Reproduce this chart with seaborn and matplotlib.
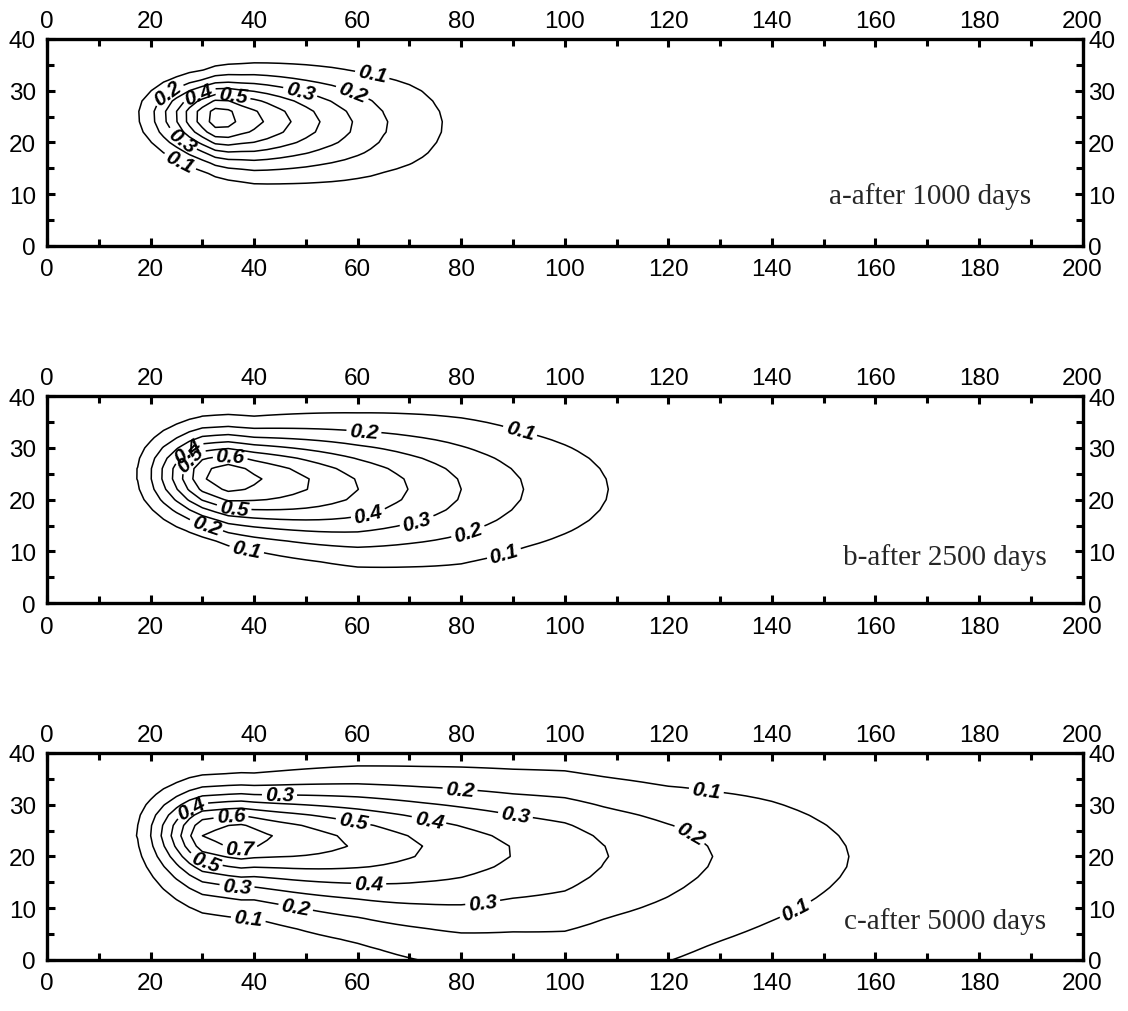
import matplotlib
matplotlib.use("Agg")
import matplotlib.pyplot as plt
import numpy as np
import seaborn as sns
from matplotlib.ticker import MultipleLocator

sns.set_theme(style="ticks")
plt.rcParams["font.family"] = ["Liberation Sans", "DejaVu Sans"]

LEVELS = [0.1, 0.2, 0.3, 0.4, 0.5, 0.6, 0.7]
PANEL_TEXT = ["a-after 1000 days", "b-after 2500 days", "c-after 5000 days"]
X_TICKS = [0, 20, 40, 60, 80, 100, 120, 140, 160, 180, 200]
Y_TICKS = [0, 10, 20, 30, 40]

A_X = [10, 18, 20.8, 22.8, 24.9, 26.7, 28.6, 31, 33.5, 36.2, 41.9, 47.1, 52.7, 59, 65.6, 76.1, 92]
A_C = [0.0, 0.1, 0.2, 0.3, 0.4, 0.5, 0.6, 0.7, 0.79, 0.7, 0.6, 0.5, 0.4, 0.3, 0.2, 0.1, 0.0]
B_X = [10, 17.4, 20.1, 22.1, 24.2, 26.1, 28, 30.2, 35, 41.5, 51, 60.2, 69.7, 80, 91.9, 108.3, 128]
B_C = [0.0, 0.1, 0.2, 0.3, 0.4, 0.5, 0.6, 0.7, 0.77, 0.7, 0.6, 0.5, 0.4, 0.3, 0.2, 0.1, 0.0]
C_X = [10, 17.4, 20, 22.1, 23.8, 26, 27.7, 30, 37, 43.8, 58.1, 72.7, 89.8, 100, 108.3, 128.4, 154.9, 180]
C_C = [0.0, 0.1, 0.2, 0.3, 0.4, 0.5, 0.6, 0.7, 0.77, 0.7, 0.6, 0.5, 0.4, 0.36, 0.3, 0.2, 0.1, 0.0]

# lateral stations: plume centre y and spread above / below it
A_SX = [15, 25, 30, 40, 60, 80]
A_YC = [25.5, 25.2, 25.0, 24.5, 23.5, 23.5]
A_SUP = [4.3, 4.4, 4.6, 5.6, 7.0, 9.0]
A_SLO = [4.8, 5.1, 5.4, 6.5, 7.2, 9.0]
B_SX = [15, 30, 40, 60, 80, 100, 120]
B_YC = [25.0, 24.7, 24.0, 22.5, 22.0, 22.0, 22.0]
B_SUP = [5.3, 5.8, 6.1, 7.9, 9.3, 9.5, 9.5]
B_SLO = [5.3, 6.0, 7.0, 8.6, 9.7, 9.5, 9.5]
C_SX = [15, 40, 60, 80, 100, 120, 140, 170]
C_YC = [24.5, 23.5, 22.0, 21.0, 20.5, 20.0, 19.5, 19.5]
C_SUP = [5.5, 6.3, 8.2, 9.3, 10.0, 10.2, 11.8, 12.0]
C_SLO = [6.0, 6.5, 8.5, 11.5, 13.5, 14.2, 12.8, 12.4]
LOWER_SHAPE = [2.0, 2.0, 1.6]

PANELS = [
    (A_X, A_C, A_SX, A_YC, A_SUP, A_SLO),
    (B_X, B_C, B_SX, B_YC, B_SUP, B_SLO),
    (C_X, C_C, C_SX, C_YC, C_SUP, C_SLO),
]

# where the contour labels sit (layout only)
LABEL_SPOTS = [
    [(62.5, 31.9), (58.7, 29.0), (48.7, 29.0), (35.8, 28.3), (29.3, 29.4),
     (23.7, 29.0), (26.2, 20.6), (25.8, 16.5)],
    [(61.2, 33.1), (91.2, 32.7), (27.2, 29.3), (27.2, 28.3), (35.3, 27.9),
     (36.1, 18.3), (62.0, 17.3), (71.4, 15.9), (81.1, 14.4), (30.8, 15.1),
     (38.5, 10.0), (88.0, 10.4)],
    [(44.9, 32.4), (79.8, 33.4), (90.5, 28.2), (73.8, 27.2), (59.1, 26.6),
     (35.5, 28.2), (28.1, 28.9), (37.2, 21.4), (30.7, 19.5), (36.7, 14.3),
     (62.1, 14.1), (84.1, 11.5), (47.9, 9.4), (38.9, 8.2), (127.4, 33.2),
     (124.1, 24.1), (144.5, 9.9)],
]
LABEL_LEVELS = [[0.1, 0.2, 0.3, 0.4, 0.5], [0.1, 0.2, 0.3, 0.4, 0.5, 0.6],
                [0.1, 0.2, 0.3, 0.4, 0.5, 0.6, 0.7]]
TEXT_SPOTS = [(190, 9.8), (193, 9.0), (193, 7.6)]
AX_BOTTOMS = [0.756, 0.403, 0.0504]


def plume_field(xg, yg, cx, cc, sx, yc, sup, slo, p_lo):
    amp = np.interp(xg, cx, cc)
    ycen = np.interp(xg, sx, yc)
    s_up = np.interp(xg, sx, sup)
    s_lo = np.interp(xg, sx, slo)
    d = yg - ycen
    upper = np.exp(-0.5 * (d / s_up) ** 2)
    lower = np.exp(-0.5 * (np.abs(d) / s_lo) ** p_lo)
    return amp * np.where(d >= 0, upper, lower)


fig = plt.figure(figsize=(11.28, 10.12), dpi=100)
# model grid of the simulation (coarse cells, contoured linearly)
xs = np.arange(0, 200.1, 2.5)
ys = np.arange(0, 40.1, 2.0)
X, Y = np.meshgrid(xs, ys)

for i, (cx, cc, sx, yc, sup, slo) in enumerate(PANELS):
    ax = fig.add_axes([0.0417, AX_BOTTOMS[i], 0.918, 0.2046])
    Z = plume_field(X, Y, cx, cc, sx, yc, sup, slo, LOWER_SHAPE[i])
    cs = ax.contour(X, Y, Z, levels=LEVELS, colors="black", linewidths=1.1)
    labs = ax.clabel(cs, levels=LABEL_LEVELS[i], manual=LABEL_SPOTS[i], fmt="%.1f",
                     inline=True, inline_spacing=3, fontsize=15)
    for t in labs:
        t.set_fontstyle("italic")
        t.set_fontweight("bold")
        t.set_color("black")

    ax.set_xlim(0, 200)
    ax.set_ylim(0, 40)
    ax.set_xticks(X_TICKS)
    ax.set_yticks(Y_TICKS)
    ax.xaxis.set_minor_locator(MultipleLocator(10))
    ax.yaxis.set_minor_locator(MultipleLocator(5))
    ax.tick_params(which="both", direction="in", top=True, right=True,
                   labeltop=False, labelright=False, width=2.2, color="black",
                   labelsize=17.5, labelcolor="black")
    ax.tick_params(which="major", length=6)
    ax.tick_params(which="minor", length=5)
    ax.tick_params(axis="x", pad=9)
    ax.tick_params(axis="y", pad=8)
    for sp in ax.spines.values():
        sp.set_linewidth(2.4)
        sp.set_color("black")
    ax.set_facecolor("white")

    top = ax.secondary_xaxis("top")
    top.set_xticks(X_TICKS)
    top.tick_params(length=0, pad=5, labelsize=17.5, labelcolor="black")
    top.spines["top"].set_visible(False)

    right = ax.secondary_yaxis("right")
    right.set_yticks(Y_TICKS)
    right.tick_params(length=0, pad=4, labelsize=17.5, labelcolor="black")
    right.spines["right"].set_visible(False)

    ax.text(TEXT_SPOTS[i][0], TEXT_SPOTS[i][1], PANEL_TEXT[i], ha="right", va="center",
            fontsize=21, family=["Liberation Serif", "DejaVu Serif"])

fig.savefig("out.png", dpi=100, facecolor="white")
